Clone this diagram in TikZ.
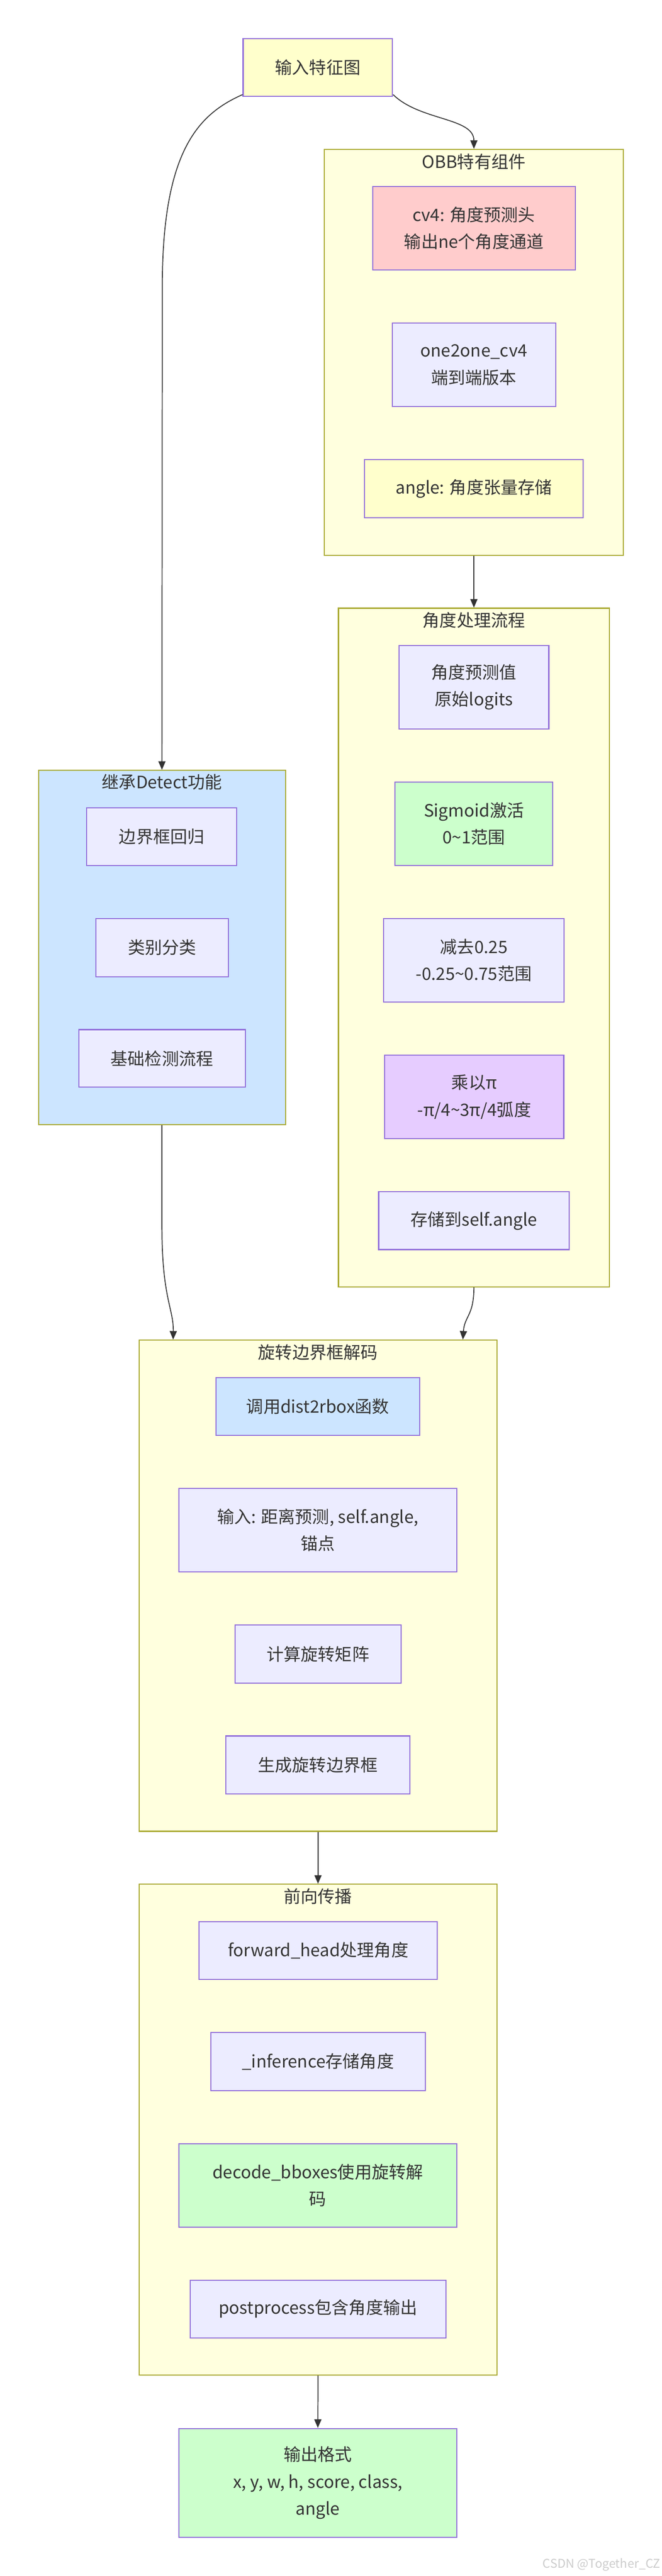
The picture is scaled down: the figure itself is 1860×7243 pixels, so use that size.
\documentclass[tikz,border=0pt]{standalone}
\usepackage{fontspec}
\setmainfont{Noto Sans CJK SC}
\usetikzlibrary{arrows.meta,calc}
\definecolor{nodeFill}{HTML}{ECECFF}
\definecolor{nodeStroke}{HTML}{9370DB}
\definecolor{clusterFill}{HTML}{FFFFDE}
\definecolor{clusterStroke}{HTML}{AAAA33}
\definecolor{edgeC}{HTML}{333333}
\definecolor{textC}{HTML}{333333}
\definecolor{pinkF}{HTML}{FFCCCC}
\definecolor{greenF}{HTML}{CCFFCC}
\definecolor{purpleF}{HTML}{E6CCFF}
\definecolor{blueF}{HTML}{CCE5FF}
\definecolor{yellowF}{HTML}{FFFFCC}
\definecolor{wmC}{HTML}{CCCCCC}
\tikzset{
  box/.style={draw=nodeStroke, fill=nodeFill, line width=3pt, inner sep=0pt,
    align=center, text=textC, font=\fontsize{48}{76}\selectfont},
  cluster/.style={draw=clusterStroke, fill=clusterFill, line width=3pt, inner sep=0pt},
  ctitle/.style={text=textC, font=\fontsize{48}{76}\selectfont, inner sep=0pt},
  edge/.style={draw=edgeC, line width=2.5pt, -{Triangle[length=24pt,width=20pt]}},
}
\begin{document}
\begin{tikzpicture}[x=1pt,y=-1pt]
\useasboundingbox (0,0) rectangle (1860,7243);
\fill[white] (0,0) rectangle (1860,7243);

% clusters
\node[cluster, minimum width=841pt, minimum height=1141pt] (obb) at (1331.5,990.5) {};
\node[ctitle] (obbT) at (1331.5,455) {OBB特有组件};
\node[cluster, minimum width=761pt, minimum height=1908pt] (angc) at (1331.5,2664) {};
\node[ctitle] (angcT) at (1331.5,1744) {角度处理流程};
\node[cluster, fill=blueF, minimum width=694pt, minimum height=996pt] (det) at (455,2664) {};
\node[ctitle] (detT) at (455,2199) {继承Detect功能};
\node[cluster, minimum width=1005pt, minimum height=1381pt] (rbx) at (893.5,4458.5) {};
\node[ctitle] (rbxT) at (893.5,3802) {旋转边界框解码};
\node[cluster, minimum width=1005pt, minimum height=1380pt] (fwd) at (893.5,5988) {};
\node[ctitle] (fwdT) at (893.5,5332) {前向传播};

% nodes
\node[box, fill=yellowF, minimum width=420pt, minimum height=163pt] (in) at (893,190) {输入特征图};

\node[box, fill=pinkF, minimum width=569pt, minimum height=234pt] (cv4) at (1331.5,642) {cv4: 角度预测头\\输出ne个角度通道};
\node[box, minimum width=459pt, minimum height=235pt] (o2o) at (1331.5,1026) {one2one\_cv4\\端到端版本};
\node[box, fill=yellowF, minimum width=615pt, minimum height=163pt] (angle) at (1331.5,1374) {angle: 角度张量存储};

\node[box, minimum width=421pt, minimum height=235pt] (raw) at (1331.5,1932) {角度预测值\\原始logits};
\node[box, fill=greenF, minimum width=443pt, minimum height=235pt] (sig) at (1331.5,2316) {Sigmoid激活\\0\textasciitilde 1范围};
\node[box, minimum width=507pt, minimum height=234pt] (sub) at (1331.5,2700) {减去0.25\\-0.25\textasciitilde 0.75范围};
\node[box, fill=purpleF, minimum width=503pt, minimum height=235pt] (mul) at (1332.5,3084.5) {乘以π\\-π/4\textasciitilde 3π/4弧度};
\node[box, minimum width=535pt, minimum height=163pt] (store) at (1331.5,3432) {存储到self.angle};

\node[box, minimum width=421pt, minimum height=163pt] (bbox) at (454.5,2352.5) {边界框回归};
\node[box, minimum width=373pt, minimum height=163pt] (cls) at (455.5,2664.5) {类别分类};
\node[box, minimum width=468pt, minimum height=162pt] (base) at (455,2976) {基础检测流程};

\node[box, fill=blueF, minimum width=572pt, minimum height=163pt] (d2r) at (893,3954.5) {调用dist2rbox函数};
\node[box, minimum width=780pt, minimum height=234pt] (inp) at (893,4302) {输入: 距离预测, self.angle,\\锚点};
\node[box, minimum width=467pt, minimum height=163pt] (rot) at (893.5,4650.5) {计算旋转矩阵};
\node[box, minimum width=516pt, minimum height=163pt] (gen) at (893,4962.5) {生成旋转边界框};

\node[box, minimum width=670pt, minimum height=162pt] (fh) at (894,5484) {forward\_head处理角度};
\node[box, minimum width=603pt, minimum height=163pt] (inf) at (893.5,5796.5) {\_inference存储角度};
\node[box, fill=greenF, minimum width=780pt, minimum height=235pt] (dec) at (893,6144.5) {decode\_bboxes使用旋转解\\码};
\node[box, minimum width=719pt, minimum height=162pt] (post) at (893.5,6492) {postprocess包含角度输出};

\node[box, fill=greenF, minimum width=780pt, minimum height=306pt] (out) at (893,6981) {输出格式\\x, y, w, h, score, class,\\angle};

\node[anchor=east, text=wmC, inner sep=0pt, font=\fontsize{34}{40}\selectfont] (wm) at (1856,7211) {CSDN @Together\_CZ};

% connectors
\coordinate (rbxL) at ($(rbx.north west)+(97,0)$);
\coordinate (rbxR) at ($(rbx.north east)+(-97,0)$);

\draw[edge] ([yshift=7pt]in.south east) .. controls (1180,340) and (1331.5,330) .. (obb.north);
\draw[edge] ([yshift=7pt]in.south west) .. controls (560,320) and (457,420) .. (456,800) -- (det.north);
\draw[edge] (obb.south) -- (angc.north);
\draw[edge] (det.south) -- (455,3450) .. controls (455,3650) and (488,3680) .. (rbxL);
\draw[edge] (angc.south) .. controls (1331.5,3700) and (1305,3700) .. (rbxR);
\draw[edge] (rbx.south) -- (fwd.north);
\draw[edge] (fwd.south) -- (out.north);
\end{tikzpicture}
\end{document}
